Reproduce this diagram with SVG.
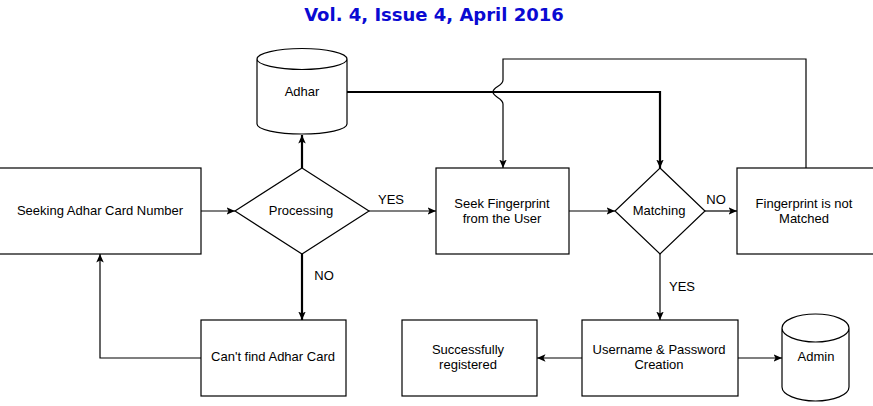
<svg xmlns="http://www.w3.org/2000/svg" width="873" height="406" viewBox="0 0 873 406">
  <style>
    .box{fill:#fff;stroke:#000;stroke-width:1.2}
    .t{font-family:"Liberation Sans",Arial,sans-serif;font-size:13px;fill:#000;text-anchor:middle}
    .ln{fill:none;stroke:#000;stroke-width:1.2}
    .thick{fill:none;stroke:#000;stroke-width:2.2}
    .title{font-family:"DejaVu Sans",Verdana,sans-serif;font-size:18px;font-weight:bold;fill:#0a0ad2;text-anchor:middle}
  </style>
  <defs>
    <marker id="arr" markerUnits="userSpaceOnUse" markerWidth="9" markerHeight="8" refX="8.5" refY="3.75" orient="auto">
      <path d="M0,0 L8.5,3.75 L0,7.5 L2,3.75 z" fill="#000"/>
    </marker>
  </defs>
  <rect width="873" height="406" fill="#fff"/>
  <text class="title" x="434" y="21">Vol. 4, Issue 4, April 2016</text>

  <g id="connectors">
    <path class="ln" d="M201,211 H235" marker-end="url(#arr)"/>
    <path class="thick" d="M302,168 V135" marker-end="url(#arr)"/>
    <path class="ln" d="M369,211 H436" marker-end="url(#arr)"/>
    <path class="thick" d="M347,92 H660 V168" marker-end="url(#arr)"/>
    <path class="ln" d="M806,168 V59 H503 V80 C503,86 493,87 493,92 C493,97 503,98 503,104 V168" marker-end="url(#arr)"/>
    <path class="ln" d="M569,211 H615" marker-end="url(#arr)"/>
    <path class="ln" d="M705,211 H737" marker-end="url(#arr)"/>
    <path class="thick" d="M302,254 V320" marker-end="url(#arr)"/>
    <path class="ln" d="M201,358 H100 V254" marker-end="url(#arr)"/>
    <path class="ln" d="M660,254 V320" marker-end="url(#arr)"/>
    <path class="ln" d="M582,358 H537" marker-end="url(#arr)"/>
    <path class="ln" d="M738,358 H782" marker-end="url(#arr)"/>
    <text class="t" x="391" y="204">YES</text>
    <text class="t" x="716" y="204">NO</text>
    <text class="t" x="324" y="280">NO</text>
    <text class="t" x="682" y="291">YES</text>
  </g>

  <g id="seeking">
    <rect class="box" x="-2" y="168" width="203" height="86"/>
    <text class="t" x="100" y="215">Seeking Adhar Card Number</text>
  </g>
  <g id="processing">
    <path class="box" d="M302,168 L369,211 L302,254 L235,211 z"/>
    <text class="t" x="301" y="215">Processing</text>
  </g>
  <g id="adhar">
    <path class="box" d="M257,59 V124 A45,10 0 0 0 347,124 V59 A45,10.5 0 0 0 257,59 A45,10.5 0 0 0 347,59"/>
    <text class="t" x="302" y="96">Adhar</text>
  </g>
  <g id="seekfp">
    <rect class="box" x="436" y="168" width="133" height="86"/>
    <text class="t" x="502" y="208">Seek Fingerprint</text>
    <text class="t" x="502" y="223">from the User</text>
  </g>
  <g id="matching">
    <path class="box" d="M660,168 L705,211 L660,254 L615,211 z"/>
    <text class="t" x="659" y="215">Matching</text>
  </g>
  <g id="notmatched">
    <rect class="box" x="737" y="168" width="137" height="86"/>
    <text class="t" x="804" y="208">Fingerprint is not</text>
    <text class="t" x="804" y="223">Matched</text>
  </g>
  <g id="cantfind">
    <rect class="box" x="201" y="320" width="145" height="76"/>
    <text class="t" x="273" y="361">Can't find Adhar Card</text>
  </g>
  <g id="success">
    <rect class="box" x="402" y="320" width="135" height="76"/>
    <text class="t" x="468" y="354">Successfully</text>
    <text class="t" x="468" y="369">registered</text>
  </g>
  <g id="username">
    <rect class="box" x="582" y="320" width="156" height="76"/>
    <text class="t" x="659" y="354">Username &amp; Password</text>
    <text class="t" x="659" y="369">Creation</text>
  </g>
  <g id="admin">
    <path class="box" d="M782,328 V387 A33.5,14 0 0 0 849,387 V328 A33.5,14 0 0 0 782,328 A33.5,14 0 0 0 849,328"/>
    <text class="t" x="816" y="361">Admin</text>
  </g>
</svg>
